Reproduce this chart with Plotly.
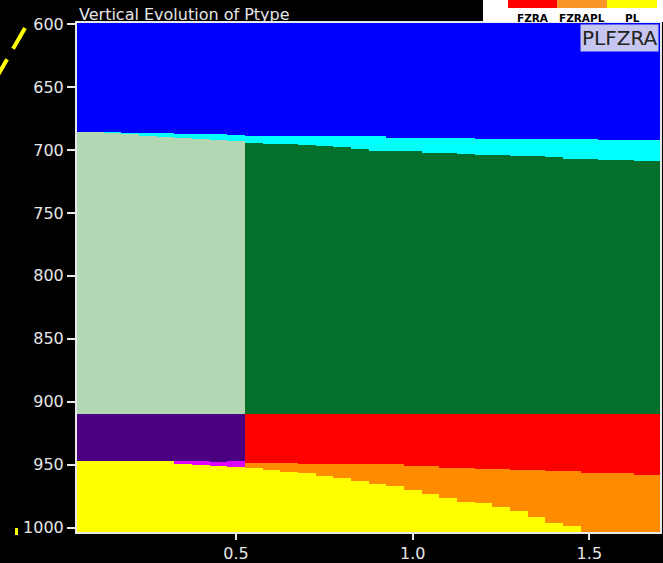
import numpy as np
import plotly.graph_objects as go

# ---- data ----
x_centers = [0.05, 0.10, 0.15, 0.20, 0.25, 0.30, 0.35, 0.40, 0.45, 0.50,
             0.55, 0.60, 0.65, 0.70, 0.75, 0.80, 0.85, 0.90, 0.95, 1.00,
             1.05, 1.10, 1.15, 1.20, 1.25, 1.30, 1.35, 1.40, 1.45, 1.50,
             1.55, 1.60, 1.65, 1.70]

# bottom of the blue layer (hPa)
blue_bottom = [685.9, 685.9, 685.9, 686.7, 686.7, 686.7, 687.5, 687.5, 687.5, 688.1,
               688.6, 688.6, 688.6, 689.1, 689.1, 689.1, 689.1, 689.1, 690.6, 690.6,
               690.6, 690.6, 690.6, 691.5, 691.5, 691.5, 691.5, 691.5, 691.5, 691.5,
               692.3, 692.3, 692.3, 692.3]
# bottom of the cyan layer (hPa)
cyan_bottom = [685.9, 685.9, 686.3, 687.5, 688.7, 689.5, 690.3, 691.1, 691.9, 693.1,
               694.7, 695.1, 695.5, 696.5, 697.1, 697.6, 698.9, 700.3, 700.3, 701.1,
               702.1, 702.1, 702.9, 704.0, 704.0, 704.8, 704.8, 705.8, 706.9, 706.9,
               707.7, 707.7, 708.8, 708.8]
# level separating the green layer from the layer below (hPa)
green_bottom = 910.0
# bottom of the indigo / red layer (hPa)
mid_bottom = [946.9, 946.9, 946.9, 946.9, 946.9, 946.9, 947.5, 947.5, 948.0, 947.5,
              948.3, 948.3, 948.3, 949.1, 949.1, 949.1, 949.6, 949.6, 949.6, 950.9,
              950.9, 952.3, 952.3, 953.1, 953.1, 954.1, 954.1, 954.9, 954.9, 956.3,
              957.0, 957.0, 957.8, 957.8]
# top of the yellow layer (hPa); None = no yellow in that column
yellow_top = [946.9, 946.9, 946.9, 947.5, 947.5, 947.5, 949.1, 949.9, 950.7, 951.7,
              952.8, 954.4, 955.5, 957.0, 958.9, 961.0, 962.9, 965.0, 967.1, 970.0,
              973.0, 976.1, 979.3, 980.1, 983.5, 987.0, 991.2, 996.2, 998.5, None,
              None, None, None, None]

split_x = 0.525          # columns left of this use the "left" palette
p_top, p_bottom = 598.0, 1006.0
p_step = 0.25            # vertical resolution of the grid (hPa)

legend_labels = ["FZRA", "FZRAPL", "PL"]
legend_colors = ["#FF0000", "#FA9628", "#FFFF00"]

categories = ["blue", "cyan", "lgreen", "dgreen", "indigo", "magenta", "red", "orange", "yellow"]
cat_colors = ["#0000FF", "#00FFFF", "#B3D7B3", "#03712C", "#4B0082", "#E000FF",
              "#FF0000", "#FF8C00", "#FFFF00"]

# ---- build the category grid from the boundaries ----
levels = np.arange(p_top, p_bottom + p_step / 2, p_step)
n = len(x_centers)
z = np.zeros((len(levels), n), dtype=int)
for i in range(n):
    is_left = x_centers[i] < split_x
    ybot = yellow_top[i] if yellow_top[i] is not None else p_bottom + 1
    col = np.full(len(levels), 8)
    col[levels < ybot] = 5 if is_left else 7
    col[levels < mid_bottom[i]] = 4 if is_left else 6
    col[levels < green_bottom] = 2 if is_left else 3
    col[levels < cyan_bottom[i]] = 1
    col[levels < blue_bottom[i]] = 0
    z[:, i] = col

k = len(categories)
colorscale = []
for j, c in enumerate(cat_colors):
    colorscale.append([j / k, c])
    colorscale.append([(j + 1) / k, c])

fig = go.Figure(go.Heatmap(
    x=x_centers, y=levels.tolist(), z=z.tolist(),
    zmin=-0.5, zmax=k - 0.5, colorscale=colorscale,
    showscale=False, hoverinfo="skip",
))

# ---- layout ----
L, R, T, B = 77, 3, 23, 31
W, H = 663, 563
pw, ph = W - L - R, H - T - B


def px(xp):
    return (xp - L) / pw


def py(yp):
    return (H - B - yp) / ph


tickfont = dict(family="DejaVu Sans", size=16, color="#E6E6E6")
axis_common = dict(showgrid=False, zeroline=False, showline=True, linecolor="#E8E8E8",
                   linewidth=2, mirror=True, ticks="outside", tickwidth=2,
                   tickcolor="#E8E8E8", tickfont=tickfont, automargin=False)

fig.update_layout(
    width=W, height=H,
    margin=dict(l=L, r=R, t=T, b=B, pad=0, autoexpand=False),
    paper_bgcolor="black", plot_bgcolor="black",
    showlegend=False,
    xaxis=dict(range=[0.05, 1.70], tickvals=[0.5, 1.0, 1.5], ticklen=6,
               ticktext=["0.5", "1.0", "1.5"], **axis_common),
    yaxis=dict(range=[1003.5, 599.1], tickvals=[600, 650, 700, 750, 800, 850, 900, 950, 1000],
               ticktext=["600", "650", "700", "750", "800", "850", "900", "950", "1000"],
               ticklen=8, **axis_common),
)

annotations = [
    dict(text="Vertical Evolution of Ptype", xref="paper", yref="paper", x=0, y=1,
         xanchor="left", yanchor="bottom", showarrow=False, yshift=-3,
         font=dict(family="DejaVu Sans", size=16, color="#E6E6E6")),
    dict(text="PLFZRA", xref="paper", yref="paper", x=1, y=1, xanchor="right",
         yanchor="top", showarrow=False, xshift=-1, yshift=-1,
         bgcolor="#C6C6F0", borderpad=1,
         font=dict(family="DejaVu Sans", size=20, color="#222222")),
]

shapes = [
    # partially visible legend box (top right)
    dict(type="rect", xref="paper", yref="paper", x0=px(483), x1=px(665), y0=py(22), y1=py(-2),
         fillcolor="white", line=dict(width=0), layer="above"),
    # yellow dashed line fragment (top left, outside the axes)
    dict(type="line", xref="paper", yref="paper", x0=px(25), y0=py(28), x1=px(-6), y1=py(82),
         line=dict(color="#FFFF00", width=4, dash="24px,12px")),
    # small yellow mark (bottom left)
    dict(type="rect", xref="paper", yref="paper", x0=px(15), x1=px(18), y0=py(535), y1=py(528),
         fillcolor="#FFFF00", line=dict(width=0)),
]

seg_x = [508, 557, 607, 657]
for i, (lab, col) in enumerate(zip(legend_labels, legend_colors)):
    shapes.append(dict(type="rect", xref="paper", yref="paper",
                       x0=px(seg_x[i]), x1=px(seg_x[i + 1]), y0=py(8), y1=py(-1),
                       fillcolor=col, line=dict(width=0), layer="above"))
    annotations.append(dict(text=f"<b>{lab}</b>", xref="paper", yref="paper",
                            x=px((seg_x[i] + seg_x[i + 1]) / 2), y=py(17.5),
                            xanchor="center", yanchor="middle", showarrow=False,
                            font=dict(family="DejaVu Sans", size=10.5, color="black")))

fig.update_layout(shapes=shapes, annotations=annotations)

fig.write_html(
    "out.html",
    config={"displayModeBar": False},
    post_script="document.body.style.margin='0';document.body.style.padding='0';"
                "document.documentElement.style.overflow='hidden';"
)
